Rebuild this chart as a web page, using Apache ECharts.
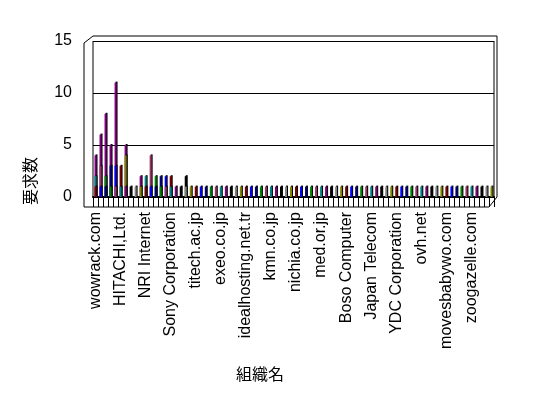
<!DOCTYPE html>
<html>
<head>
<meta charset="utf-8">
<script src="https://cdn.jsdelivr.net/npm/echarts@6/dist/echarts.min.js"></script>
<style>html,body{margin:0;padding:0;background:#fff}#c{width:548px;height:398px}</style>
</head>
<body>
<div id="c"></div>
<script>
// ---- data ----
const tickLabels = ['wowrack.com', 'HITACHI,Ltd.', 'NRI Internet', 'Sony Corporation', 'titech.ac.jp',
  'exeo.co.jp', 'idealhosting.net.tr', 'kmn.co.jp', 'nichia.co.jp', 'med.or.jp', 'Boso Computer',
  'Japan Telecom', 'YDC Corporation', 'ovh.net', 'movesbabywo.com', 'zoogazelle.com'];
const categoryCount = 80;           // organisations on the axis (only every 5th name is printed)
const categories = Array.from({length: categoryCount}, (_, i) => (i % 5 === 0 ? tickLabels[i / 5] : ''));
const yTicks = [0, 5, 10, 15];

// depth rows of the 3-D column chart (back row is the tallest)
const backValues = [4, 6, 8, 5, 11, 0, 5, 0, 0, 0,
  0, 0, 0, 0, 0, 0, 0, 0, 0, 0,
  0, 0, 0, 0, 0, 0, 0, 0, 0, 0,
  0, 0, 0, 0, 0, 0, 0, 0, 0, 0,
  0, 0, 0, 0, 0, 0, 0, 0, 0, 0,
  0, 0, 0, 0, 0, 0, 0, 0, 0, 0,
  0, 0, 0, 0, 0, 0, 0, 0, 0, 0,
  0, 0, 0, 0, 0, 0, 0, 0, 0, 0];
const midValues = [2, 3, 2, 3, 3, 3, 4, 0, 0, 2,
  2, 4, 2, 2, 2, 2, 0, 0, 2, 0,
  0, 0, 0, 0, 0, 0, 0, 0, 0, 0,
  0, 0, 0, 0, 0, 0, 0, 0, 0, 0,
  0, 0, 0, 0, 0, 0, 0, 0, 0, 0,
  0, 0, 0, 0, 0, 0, 0, 0, 0, 0,
  0, 0, 0, 0, 0, 0, 0, 0, 0, 0,
  0, 0, 0, 0, 0, 0, 0, 0, 0, 0];
const frontValues = [1, 1, 1, 1, 1, 1, 1, 1, 1, 1,
  1, 1, 1, 1, 1, 1, 1, 1, 1, 1,
  1, 1, 1, 1, 1, 1, 1, 1, 1, 1,
  1, 1, 1, 1, 1, 1, 1, 1, 1, 1,
  1, 1, 1, 1, 1, 1, 1, 1, 1, 1,
  1, 1, 1, 1, 1, 1, 1, 1, 1, 1,
  1, 1, 1, 1, 1, 1, 1, 1, 1, 1,
  1, 1, 1, 1, 1, 1, 1, 1, 1, 1];

// ---- style ----
const palette = ['#800000', '#008000', '#800080', '#808000', '#000080', '#008080', '#808080', '#0000ff', '#993366', '#000000'];
const G = {left: 93, top: 41, width: 401, height: 156};
const FONT = "'Liberation Sans', Arial, sans-serif";
const CJK = "'Noto Sans CJK JP', sans-serif";

const chart = echarts.init(document.getElementById('c'), null, {renderer: 'canvas'});

function barSeries(name, values, colorFn) {
  return {
    name, type: 'bar', barWidth: 2, barGap: '-100%', animation: false,
    data: values.map(v => (v ? v : '-')),
    itemStyle: {
      color: colorFn,
      shadowColor: '#000', shadowBlur: 0, shadowOffsetX: 1, shadowOffsetY: -1
    }
  };
}

const L = G.left, T = G.top, R = G.left + G.width, B = G.top + G.height;
const line = (x1, y1, x2, y2) => ({type: 'line', silent: true,
  shape: {x1, y1, x2, y2}, style: {stroke: '#000', lineWidth: 1}});

chart.setOption({
  animation: false,
  grid: {left: G.left, top: G.top, width: G.width, height: G.height, containLabel: false},
  xAxis: {
    type: 'category', data: categories,
    axisLine: {show: true, lineStyle: {color: '#000', width: 2}},
    axisTick: {show: true, interval: 0, length: 10, lineStyle: {color: '#000', width: 1}},
    axisLabel: {interval: 4, rotate: 90, margin: 15, color: '#000', fontSize: 16, fontFamily: FONT},
    splitLine: {show: false}
  },
  yAxis: {
    type: 'value', min: yTicks[0], max: yTicks[yTicks.length - 1], interval: yTicks[1] - yTicks[0],
    axisLine: {show: false}, axisTick: {show: false},
    axisLabel: {margin: 21, color: '#000', fontSize: 16, fontFamily: FONT},
    splitLine: {show: true, lineStyle: {color: '#000', width: 1}}
  },
  series: [
    barSeries('back', backValues, () => '#800080'),
    barSeries('mid', midValues, p => palette[(p.dataIndex * 3 + 5) % palette.length]),
    barSeries('front', frontValues, p => palette[(p.dataIndex * 7) % palette.length])
  ],
  graphic: [
    // 3-D frame: walls and floor outline
    line(L - 9, T + 2, L, T - 5),
    line(L, T - 5, R + 3, T - 5),
    line(R + 3, T - 5, R + 3, B),
    line(R, T, R, B),
    line(L - 9, T + 2, L - 9, B + 10),
    line(L, T, L, B),
    line(L - 9, B + 10, R - 5, B + 10),
    line(R - 5, B + 10, R + 3, B),
    {type: 'text', left: 22, top: 157, rotation: Math.PI / 2, silent: true,
      style: {text: '要求数', fill: '#000', font: '16px ' + CJK}},
    {type: 'text', left: 236, top: 366, silent: true,
      style: {text: '組織名', fill: '#000', font: '16px ' + CJK}}
  ]
});
</script>
</body>
</html>
